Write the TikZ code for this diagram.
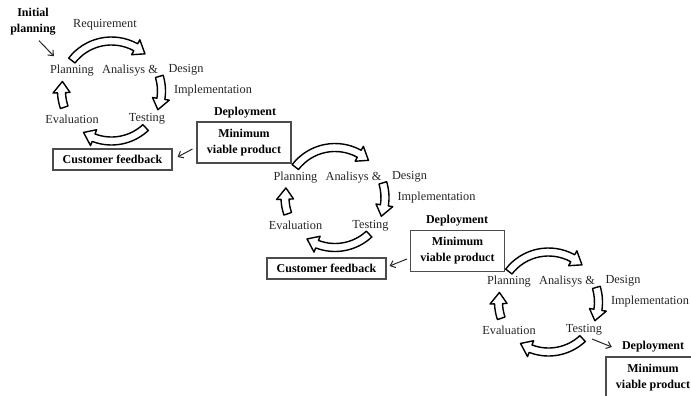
\documentclass[tikz,border=0pt]{standalone}
\usepackage{fontspec}
\setmainfont{Liberation Serif}
\usetikzlibrary{arrows.meta}

\tikzset{
  lbl/.style={font=\fontsize{12.3}{15}\selectfont, text=black!85, inner sep=0pt},
  boldlbl/.style={font=\fontsize{12}{16}\selectfont\bfseries, text=black, inner sep=0pt, align=center},
  fbbox/.style={draw=black!70, line width=1.1pt, minimum width=119pt, minimum height=21pt,
    inner sep=0pt, font=\fontsize{12}{16}\selectfont\bfseries},
  mvpbox/.style={draw=black!70, line width=1.1pt, minimum width=94pt, minimum height=41pt,
    inner sep=0pt, align=center, font=\fontsize{12}{16}\selectfont\bfseries},
  cyclearrow/.style={draw=black, line width=1.4pt, fill=white, line join=round},
  ptr/.style={-{Straight Barb[length=4.5pt,width=7.5pt]}, line width=1pt, black!85}
}

% hollow curved arrow on a circle around the scope origin, clockwise from #1 to #2 (degrees)
\newcommand\hollowarc[2]{%
  \pgfmathsetmacro\hdang{#2+13}%
  \draw[cyclearrow] (#1:54pt) arc[start angle=#1, end angle=\hdang, radius=54pt]
    -- (\hdang:58.5pt) -- (#2:50pt) -- (\hdang:41.5pt) -- (\hdang:46pt)
    arc[start angle=\hdang, end angle=#1, radius=46pt] -- cycle;}

% the four phases of one iteration, with the loop of arrows between them
\newcommand\devloop[1]{%
  \node[lbl] (plan#1) at (-39.5,20) {Planning};
  \node[lbl] (ana#1)  at (18.5,20)  {Analisys \&};
  \node[lbl] (des#1)  at (74.5,21)  {Design};
  \node[lbl] (impl#1) at (101.5,0)  {Implementation};
  \node[lbl] (eval#1) at (-39.5,-28) {Evaluation};
  \node[lbl] (test#1) at (35.5,-28) {Testing};
  \hollowarc{142.5}{48}
  \hollowarc{17}{-22}
  \hollowarc{-47}{-124}
  \hollowarc{199}{169}}

\begin{document}
\begin{tikzpicture}[x=1pt,y=1pt]
  \useasboundingbox[fill=white] (0,0) rectangle (691,-396);

  % first iteration
  \begin{scope}[shift={(111.5,-91)}]
    \devloop{1}
    \node[lbl] (req1) at (-6.5,66) {Requirement};
  \end{scope}
  \node[boldlbl] (init) at (33,-22) {Initial\\planning};
  \draw[ptr] ([xshift=6pt,yshift=-5pt]init.south) -- ([xshift=4pt,yshift=9pt]plan1.north west);
  \node[fbbox] (fb1) at (112.5,-159.5) {Customer feedback};
  \node[mvpbox] (mvp1) at (244,-142.5) {Minimum\\viable product};
  \node[boldlbl] (dep1) at (245,-113) {Deployment};
  \draw[ptr] ([xshift=-4pt,yshift=-6.5pt]mvp1.west) -- ([xshift=5pt,yshift=2.5pt]fb1.east);

  % second iteration
  \begin{scope}[shift={(335,-197.5)}]
    \devloop{2}
  \end{scope}
  \node[fbbox] (fb2) at (326.5,-268.5) {Customer feedback};
  \node[mvpbox] (mvp2) at (457.5,-251) {Minimum\\viable product};
  \node[boldlbl] (dep2) at (457,-221) {Deployment};
  \draw[ptr] ([xshift=-3pt,yshift=-8pt]mvp2.west) -- ([xshift=3pt,yshift=2.5pt]fb2.east);

  % third iteration
  \begin{scope}[shift={(548.5,-302)}]
    \devloop{3}
  \end{scope}
  \node[boldlbl] (dep3) at (653,-347) {Deployment};
  \node[mvpbox] (mvp3) at (653,-377.5) {Minimum\\viable product};
  \draw[ptr] ([xshift=8pt,yshift=-9pt]test3.center) -- ([xshift=-10pt]dep3.west);
\end{tikzpicture}
\end{document}
